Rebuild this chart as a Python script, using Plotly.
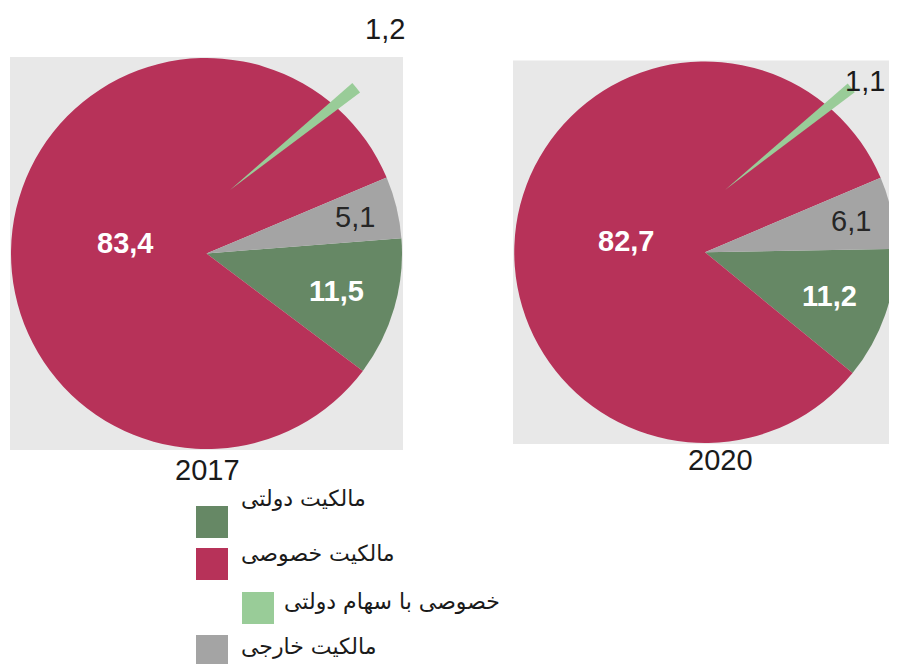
import math
import plotly.graph_objects as go

# ---------------- data ----------------
pie_labels = ["مالکیت دولتی", "مالکیت خصوصی", "مالکیت خارجی"]
values_2017 = [11.5, 83.4, 5.1]
values_2020 = [11.2, 82.7, 6.1]
callout_label = "خصوصی با سهام دولتی"
callout_2017 = 1.2
callout_2020 = 1.1
years = ["2017", "2020"]
legend_labels = ["مالکیت دولتی", "مالکیت خصوصی", "خصوصی با سهام دولتی", "مالکیت خارجی"]

# ---------------- style ----------------
PAGE_W, PAGE_H = 897, 664
OFF = 8  # default page body margin
W, H = PAGE_W - OFF, PAGE_H - OFF
COL = {
    "مالکیت دولتی": "#668865",
    "مالکیت خصوصی": "#B73259",
    "خصوصی با سهام دولتی": "#99CC98",
    "مالکیت خارجی": "#A4A4A4",
}
BG = "#E8E8E8"
NUM_FONT = "Liberation Sans, Arial, sans-serif"
FA_FONT = "DejaVu Sans, sans-serif"
NUM_SIZE = 29


def fx(x):
    return (x - OFF) / W


def fy(y):
    return 1 - (y - OFF) / H


def fmt(v):
    return f"{v:.1f}".replace(".", ",")


# panel geometry in page pixels: main pie box, rotation, callout apex, callout radius
panels = [
    dict(year=years[0], values=values_2017, callout=callout_2017,
         box=(11, 58, 402, 449), rot=85.5, apex=(230, 190), crad=162.5,
         year_pos=(207, 470), callout_pos=(407, 29)),
    dict(year=years[1], values=values_2020, callout=callout_2020,
         box=(514, 61.5, 896, 443), rot=89.0, apex=(725, 190), crad=162.5,
         year_pos=(720, 460), callout_pos=(887, 81)),
]
label_frac = [0.69, 0.42, 0.78]
label_style = [
    dict(color="white", bold=True),
    dict(color="white", bold=True),
    dict(color="#262626", bold=False),
]
CALLOUT_DIR = 51.0  # clockwise from 12 o'clock
TOTAL = 100.0

fig = go.Figure()
shapes = []
annotations = []

for p in panels:
    x0, y0, x1, y1 = p["box"]
    # background square
    bg_right = min(x1 + 1, PAGE_W)
    shapes.append(dict(type="rect", xref="paper", yref="paper",
                       x0=fx(x0 - 1), x1=fx(bg_right), y0=fy(y1 + 1), y1=fy(y0 - 1),
                       fillcolor=BG, line=dict(width=0), layer="below"))
    # main pie
    fig.add_trace(go.Pie(
        labels=pie_labels, values=p["values"], sort=False, direction="clockwise",
        rotation=p["rot"], marker=dict(colors=[COL[l] for l in pie_labels], line=dict(width=0)),
        textinfo="none", domain=dict(x=[fx(x0), fx(x1)], y=[fy(y1), fy(y0)]),
        showlegend=False, hoverinfo="label+value",
    ))
    # callout wedge (private with state shares)
    ax, ay = p["apex"]
    cr = p["crad"]
    v = p["callout"]
    fig.add_trace(go.Pie(
        labels=[callout_label, ""], values=[v, TOTAL - v], sort=False, direction="clockwise",
        rotation=CALLOUT_DIR - v * 3.6 / 2,
        marker=dict(colors=[COL[callout_label], "rgba(0,0,0,0)"], line=dict(width=0)),
        textinfo="none", domain=dict(x=[fx(ax - cr), fx(ax + cr)], y=[fy(ay + cr), fy(ay - cr)]),
        showlegend=False, hoverinfo="skip",
    ))
    # slice labels placed at slice mid-angles
    cx, cy = (x0 + x1) / 2, (y0 + y1) / 2
    r = (x1 - x0) / 2
    start = p["rot"]
    tot = sum(p["values"])
    for i, val in enumerate(p["values"]):
        span = val / tot * 360
        mid = start + span / 2
        start += span
        th = math.radians(90 - mid)
        lx = cx + label_frac[i] * r * math.cos(th)
        ly = cy - label_frac[i] * r * math.sin(th)
        st = label_style[i]
        txt = f"<b>{fmt(val)}</b>" if st["bold"] else fmt(val)
        annotations.append(dict(xref="paper", yref="paper", x=fx(lx), y=fy(ly),
                                text=txt, showarrow=False, xanchor="center", yanchor="middle",
                                font=dict(family=NUM_FONT, size=NUM_SIZE, color=st["color"])))
    # callout value
    annotations.append(dict(xref="paper", yref="paper", x=fx(p["callout_pos"][0]), y=fy(p["callout_pos"][1]),
                            text=fmt(v), showarrow=False, xanchor="right", yanchor="middle",
                            font=dict(family=NUM_FONT, size=NUM_SIZE, color="#1a1a1a")))
    # year
    annotations.append(dict(xref="paper", yref="paper", x=fx(p["year_pos"][0]), y=fy(p["year_pos"][1]),
                            text=p["year"], showarrow=False, xanchor="center", yanchor="middle",
                            font=dict(family=NUM_FONT, size=NUM_SIZE, color="#1a1a1a")))

# custom legend
legend_items = [
    dict(sq=(196, 506), txt=(239, 498)),
    dict(sq=(196, 548), txt=(239, 553)),
    dict(sq=(242, 592), txt=(282, 601)),
    dict(sq=(196, 635), txt=(239, 646)),
]
SQ = 32
for lab, it in zip(legend_labels, legend_items):
    sx, sy = it["sq"]
    shapes.append(dict(type="rect", xref="paper", yref="paper",
                       x0=fx(sx), x1=fx(sx + SQ), y0=max(fy(sy + SQ), 0), y1=fy(sy),
                       fillcolor=COL[lab], line=dict(width=0)))
    tx, ty = it["txt"]
    annotations.append(dict(xref="paper", yref="paper", x=fx(tx), y=fy(ty),
                            text=lab, showarrow=False, xanchor="left", yanchor="middle",
                            font=dict(family=FA_FONT, size=22, color="#1a1a1a")))

fig.update_layout(
    width=W, height=H, margin=dict(l=0, r=0, t=0, b=0),
    paper_bgcolor="white", plot_bgcolor="white", showlegend=False,
    shapes=shapes, annotations=annotations,
)

fig.write_html("out.html")
